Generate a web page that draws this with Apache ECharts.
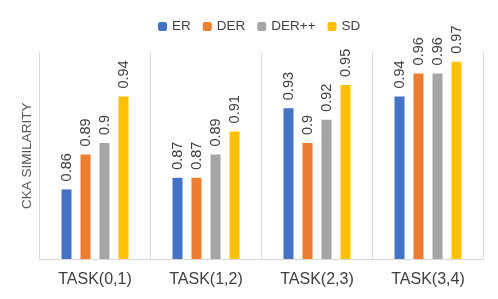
<!DOCTYPE html>
<html>
<head>
<meta charset="utf-8">
<script src="https://cdn.jsdelivr.net/npm/echarts@6/dist/echarts.min.js"></script>
<style>html,body{margin:0;padding:0;background:#fff}#c{width:498px;height:299px}</style>
</head>
<body>
<div id="c"></div>
<script>
const categories = ['TASK(0,1)', 'TASK(1,2)', 'TASK(2,3)', 'TASK(3,4)'];
const seriesNames = ['ER', 'DER', 'DER++', 'SD'];
const er = [0.86, 0.87, 0.93, 0.94];
const der = [0.89, 0.87, 0.90, 0.96];
const derpp = [0.90, 0.89, 0.92, 0.96];
const sd = [0.94, 0.91, 0.95, 0.97];
const colors = ['#4472C4', '#ED7D31', '#A5A5A5', '#FFC000'];
const values = [er, der, derpp, sd];

const font = 'Liberation Sans';
const chart = echarts.init(document.getElementById('c'), null, {renderer: 'canvas'});
chart.setOption({
  animation: false,
  textStyle: {fontFamily: font},
  legend: {
    top: 14.5,
    left: 153,
    itemWidth: 9,
    itemHeight: 9,
    itemGap: 12,
    textStyle: {fontFamily: font, fontSize: 13.5, color: '#404040'},
    data: seriesNames
  },
  grid: {left: 39.5, right: 14.5, top: 52.5, bottom: 40},
  xAxis: {
    type: 'category',
    data: categories,
    axisLine: {lineStyle: {color: '#D9D9D9', width: 1}},
    axisTick: {show: false},
    splitLine: {show: true, interval: 0, lineStyle: {color: '#D9D9D9', width: 1}},
    axisLabel: {margin: 13, fontFamily: font, fontSize: 16, color: '#404040'}
  },
  yAxis: {
    type: 'value',
    min: 0.8,
    max: 0.978,
    name: 'CKA SIMILARITY',
    nameLocation: 'middle',
    nameGap: 5,
    nameTextStyle: {fontFamily: font, fontSize: 13.5, color: '#595959'},
    axisLine: {show: false},
    axisTick: {show: false},
    axisLabel: {show: false},
    splitLine: {show: false}
  },
  series: seriesNames.map((n, i) => ({
    name: n,
    type: 'bar',
    data: values[i],
    barWidth: 10,
    barGap: '90%',
    itemStyle: {color: colors[i]},
    label: {
      show: true,
      position: 'top',
      rotate: 90,
      align: 'left',
      verticalAlign: 'middle',
      distance: 8,
      fontFamily: font,
      fontSize: 14.5,
      color: '#404040',
      formatter: p => String(p.value)
    }
  }))
});
</script>
</body>
</html>
